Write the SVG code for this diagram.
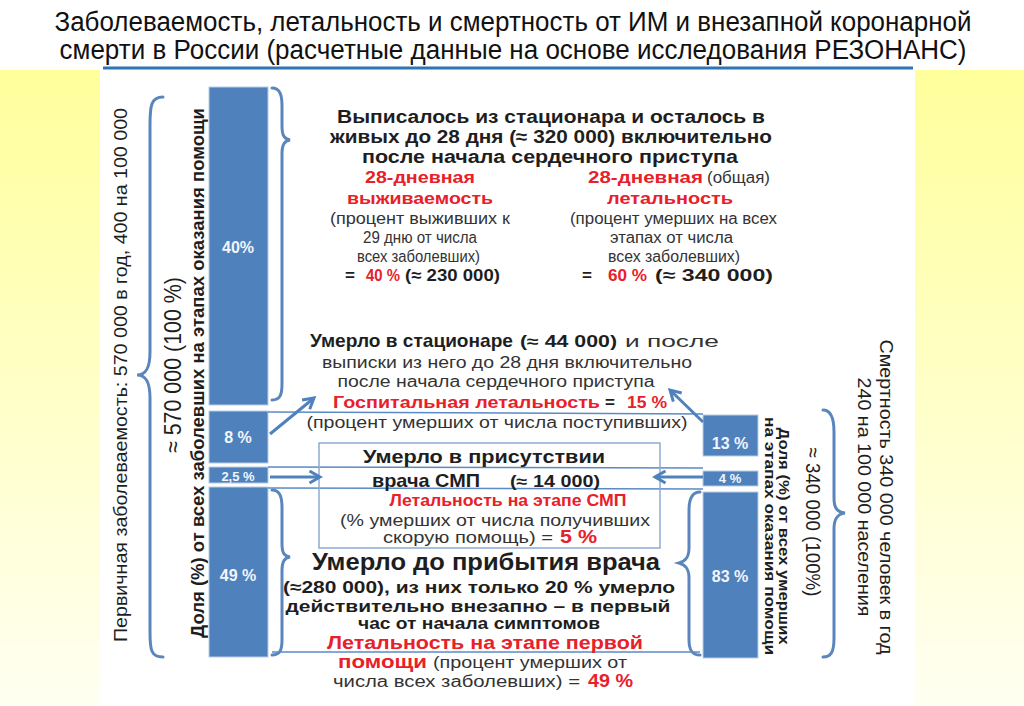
<svg xmlns="http://www.w3.org/2000/svg" width="1024" height="706" viewBox="0 0 1024 706">
<defs>
<linearGradient id="yel" x1="0" y1="0" x2="0" y2="1">
<stop offset="0" stop-color="#FFFF9C"/>
<stop offset="1" stop-color="#FFFFF2"/>
</linearGradient>
<marker id="arr" viewBox="0 0 10 10" refX="8" refY="5" markerWidth="5" markerHeight="5" orient="auto" markerUnits="strokeWidth">
<path d="M1,1 L8,5 L1,9" fill="none" stroke="#4F81BD" stroke-width="2"/>
</marker>
<style>
text{font-family:"Liberation Sans",Arial,sans-serif}
.t{font-size:27px;fill:#111}
.b{font-weight:bold;fill:#1e1e1e}
.n{font-weight:normal;fill:#333}
.r{font-weight:bold;fill:#E8202A}
.w{font-weight:bold;fill:#F2F5FA;font-size:16px}
.bar{fill:#4F81BD;stroke:#B9CDE6;stroke-width:1}
.ln{stroke:#5B8AC6;stroke-width:1.5;fill:none}
.br{stroke:#5B86BD;stroke-width:3;fill:none;stroke-linecap:round}
.ar{stroke:#4F81BD;stroke-width:3;fill:none;marker-end:url(#arr)}
</style>
</defs>
<rect x="0" y="0" width="1024" height="706" fill="#FFFFFF"/>
<rect x="0" y="70" width="100" height="636" fill="url(#yel)"/>
<rect x="915" y="70" width="109" height="636" fill="url(#yel)"/>
<line x1="103" y1="68" x2="913" y2="68" stroke="#2E75B6" stroke-width="3"/>

<g id="title">
<text class="t" x="513" y="31" text-anchor="middle" textLength="917" lengthAdjust="spacingAndGlyphs">Заболеваемость, летальность и смертность от ИМ и внезапной коронарной</text>
<text class="t" x="513" y="59" text-anchor="middle" textLength="907" lengthAdjust="spacingAndGlyphs">смерти в России (расчетные данные на основе  исследования РЕЗОНАНС)</text>
</g>

<g id="left-labels">
<text class="n" style="fill:#1e1e1e" font-size="19" transform="translate(127,375) rotate(-90)" text-anchor="middle" textLength="534" lengthAdjust="spacingAndGlyphs">Первичная заболеваемость: 570 000 в год,  400 на 100 000</text>
<text class="n" style="fill:#1e1e1e" font-size="24" transform="translate(181,365) rotate(-90)" text-anchor="middle" textLength="176" lengthAdjust="spacingAndGlyphs">≈ 570 000 (100 %)</text>
<text class="b" font-size="18" transform="translate(204,373) rotate(-90)" text-anchor="middle" textLength="530" lengthAdjust="spacingAndGlyphs">Доля (%) от всех заболевших на этапах оказания помощи</text>
</g>

<g id="left-bars">
<rect class="bar" x="209" y="87" width="59" height="318"/>
<text class="w" x="238" y="253" text-anchor="middle">40%</text>
<rect class="bar" x="209" y="411" width="59" height="52"/>
<text class="w" x="238" y="443" text-anchor="middle">8 %</text>
<rect class="bar" x="209" y="467" width="59" height="16"/>
<text class="w" x="238" y="481" text-anchor="middle" style="font-size:13px">2,5 %</text>
<rect class="bar" x="209" y="487" width="59" height="170"/>
<text class="w" x="238" y="581" text-anchor="middle">49 %</text>
</g>

<g id="right-bars">
<rect class="bar" x="703" y="415" width="55" height="41"/>
<text class="w" x="730" y="449" text-anchor="middle">13 %</text>
<rect class="bar" x="703" y="471" width="55" height="15"/>
<text class="w" x="730" y="483" text-anchor="middle" style="font-size:13px">4 %</text>
<rect class="bar" x="703" y="492" width="55" height="166"/>
<text class="w" x="730" y="582" text-anchor="middle">83 %</text>
</g>

<g id="right-labels">
<text class="n" style="fill:#1e1e1e" font-size="18" transform="translate(880,497) rotate(90)" text-anchor="middle" textLength="315" lengthAdjust="spacingAndGlyphs">Смертность 340 000 человек в год</text>
<text class="n" style="fill:#1e1e1e" font-size="18" transform="translate(858,497) rotate(90)" text-anchor="middle" textLength="239" lengthAdjust="spacingAndGlyphs">240  на 100 000 населения</text>
<text class="n" style="fill:#1e1e1e" font-size="21" transform="translate(806,522) rotate(90)" text-anchor="middle" textLength="149" lengthAdjust="spacingAndGlyphs">≈ 340 000 (100%)</text>
<text class="b" font-size="15" transform="translate(779,536) rotate(90)" text-anchor="middle" textLength="217" lengthAdjust="spacingAndGlyphs">Доля (%) от всех умерших</text>
<text class="b" font-size="15" transform="translate(765,536) rotate(90)" text-anchor="middle" textLength="238" lengthAdjust="spacingAndGlyphs">на этапах оказания помощи</text>
</g>

<g id="connectors">
<path class="br" d="M163,97 C151,97 150,106 150,125 L150,352 C150,368 146,375 137,375 C146,375 150,382 150,398 L150,632 C150,650 151,657 163,657"/>
<path class="br" d="M272,88 C280,88 282,95 282,106 L282,126 C282,135 284,139 290,140 C284,141 282,145 282,154 L282,384 C282,395 280,400 272,400"/>
<path class="br" d="M272,490 C280,490 282,497 282,508 L282,544 C282,553 284,556 290,557 C284,558 282,562 282,571 L282,640 C282,650 280,655 272,655"/>
<path class="br" d="M700,492 C692,492 689,499 689,510 L689,548 C689,557 686,561 679,563 C686,565 689,569 689,578 L689,640 C689,650 692,655 700,655"/>
<path class="br" d="M823,410 C831,410 834,418 834,432 L834,498 C834,508 837,512 845,513 C837,514 834,519 834,529 L834,638 C834,652 831,657 823,657"/>
<line class="ln" x1="268" y1="412" x2="703" y2="414"/>
<line class="ln" x1="268" y1="467" x2="703" y2="468"/>
<line class="ln" x1="268" y1="488" x2="703" y2="489"/>
<line class="ln" x1="272" y1="652" x2="700" y2="652"/>
<rect x="319" y="443" width="341" height="105" fill="none" stroke="#8EAAD2" stroke-width="1.5"/>
<line class="ar" x1="270" y1="477" x2="320" y2="477"/>
<line class="ar" x1="703" y1="477" x2="655" y2="477"/>
<line class="ar" x1="270" y1="434" x2="314" y2="398"/>
<line class="ar" x1="703" y1="422" x2="670" y2="390"/>
</g>

<g id="node-discharged">
<text class="b" font-size="18" x="551" y="123" text-anchor="middle" textLength="428" lengthAdjust="spacingAndGlyphs">Выписалось из стационара и осталось в</text>
<text class="b" font-size="18" x="551" y="143" text-anchor="middle" textLength="442" lengthAdjust="spacingAndGlyphs">живых до 28 дня (≈ 320 000) включительно</text>
<text class="b" font-size="18" x="550" y="163" text-anchor="middle" textLength="376" lengthAdjust="spacingAndGlyphs">после начала сердечного приступа</text>
<text class="r" font-size="16" x="365" y="183" textLength="110" lengthAdjust="spacingAndGlyphs">28-дневная</text>
<text class="r" font-size="16" x="588" y="183" textLength="115" lengthAdjust="spacingAndGlyphs">28-дневная</text>
<text class="n" font-size="16" x="707" y="183" textLength="63" lengthAdjust="spacingAndGlyphs">(общая)</text>
<text class="r" font-size="16" x="347" y="204" textLength="146" lengthAdjust="spacingAndGlyphs">выживаемость</text>
<text class="r" font-size="16" x="607" y="204" textLength="126" lengthAdjust="spacingAndGlyphs">летальность</text>
<text class="n" font-size="16" x="330" y="224" textLength="180" lengthAdjust="spacingAndGlyphs">(процент выживших к</text>
<text class="n" font-size="16" x="570" y="224" textLength="207" lengthAdjust="spacingAndGlyphs">(процент умерших на всех</text>
<text class="n" font-size="16" x="363" y="243" textLength="114" lengthAdjust="spacingAndGlyphs">29 дню от числа</text>
<text class="n" font-size="16" x="610" y="243" textLength="123" lengthAdjust="spacingAndGlyphs">этапах от числа</text>
<text class="n" font-size="16" x="357" y="262" textLength="123" lengthAdjust="spacingAndGlyphs">всех заболевших)</text>
<text class="n" font-size="16" x="608" y="262" textLength="132" lengthAdjust="spacingAndGlyphs">всех заболевших)</text>
<text class="b" font-size="17" x="345" y="281">=</text>
<text class="r" font-size="17" x="366" y="281" textLength="34" lengthAdjust="spacingAndGlyphs">40 %</text>
<text class="b" font-size="17" x="405" y="281" textLength="95" lengthAdjust="spacingAndGlyphs">(≈ 230 000)</text>
<text class="b" font-size="17" x="582" y="281">=</text>
<text class="r" font-size="17" x="608" y="281" textLength="39" lengthAdjust="spacingAndGlyphs">60 %</text>
<text class="b" font-size="17" x="655" y="281" textLength="118" lengthAdjust="spacingAndGlyphs">(≈ 340 000)</text>
</g>

<g id="node-hospital">
<text class="b" font-size="19" x="310" y="347" textLength="203" lengthAdjust="spacingAndGlyphs">Умерло в стационаре</text>
<text class="b" font-size="16" x="520" y="347" textLength="97" lengthAdjust="spacingAndGlyphs">(≈ 44 000)</text>
<text class="n" font-size="17" x="625" y="347" textLength="94" lengthAdjust="spacingAndGlyphs">и после</text>
<text class="n" font-size="16" x="507" y="368" text-anchor="middle" textLength="370" lengthAdjust="spacingAndGlyphs">выписки из него до 28 дня включительно</text>
<text class="n" font-size="16" x="496" y="387" text-anchor="middle" textLength="317" lengthAdjust="spacingAndGlyphs">после начала сердечного приступа</text>
<text class="r" font-size="17" x="333" y="408" textLength="267" lengthAdjust="spacingAndGlyphs">Госпитальная летальность</text>
<text class="b" font-size="17" x="605" y="408">=</text>
<text class="r" font-size="17" x="627" y="408" textLength="40" lengthAdjust="spacingAndGlyphs">15 %</text>
<text class="n" font-size="16" x="497" y="428" text-anchor="middle" textLength="381" lengthAdjust="spacingAndGlyphs">(процент умерших от числа  поступивших)</text>
</g>

<g id="node-ambulance">
<text class="b" font-size="19" x="484" y="463" text-anchor="middle" textLength="242" lengthAdjust="spacingAndGlyphs">Умерло в присутствии</text>
<text class="b" font-size="19" x="372" y="487" textLength="108" lengthAdjust="spacingAndGlyphs">врача СМП</text>
<text class="b" font-size="16" x="510" y="487" textLength="90" lengthAdjust="spacingAndGlyphs">(≈ 14 000)</text>
<text class="r" font-size="17" x="508" y="506" text-anchor="middle" textLength="237" lengthAdjust="spacingAndGlyphs">Летальность на этапе СМП</text>
<text class="n" font-size="16" x="495" y="526" text-anchor="middle" textLength="310" lengthAdjust="spacingAndGlyphs">(% умерших от числа получивших</text>
<text class="n" font-size="16" x="383" y="543" textLength="170" lengthAdjust="spacingAndGlyphs">скорую помощь) =</text>
<text class="r" font-size="18" x="560" y="543" textLength="37" lengthAdjust="spacingAndGlyphs">5 %</text>
</g>

<g id="node-prehospital">
<text class="b" font-size="24" x="486" y="570" text-anchor="middle" textLength="348" lengthAdjust="spacingAndGlyphs">Умерло до прибытия врача</text>
<text class="b" font-size="17" x="479" y="593" text-anchor="middle" textLength="392" lengthAdjust="spacingAndGlyphs">(≈280 000), из них только 20 % умерло</text>
<text class="b" font-size="17" x="478" y="612" text-anchor="middle" textLength="385" lengthAdjust="spacingAndGlyphs">действительно внезапно – в первый</text>
<text class="b" font-size="16" x="479" y="629" text-anchor="middle" textLength="242" lengthAdjust="spacingAndGlyphs">час от начала симптомов</text>
<text class="r" font-size="18" x="485" y="649" text-anchor="middle" textLength="316" lengthAdjust="spacingAndGlyphs">Летальность на этапе первой</text>
<text class="r" font-size="18" x="338" y="668" textLength="89" lengthAdjust="spacingAndGlyphs">помощи</text>
<text class="n" font-size="16" x="433" y="668" textLength="194" lengthAdjust="spacingAndGlyphs">(процент умерших от</text>
<text class="n" font-size="16" x="333" y="687" textLength="247" lengthAdjust="spacingAndGlyphs">числа всех заболевших) =</text>
<text class="r" font-size="18" x="588" y="687" textLength="45" lengthAdjust="spacingAndGlyphs">49 %</text>
</g>
</svg>
